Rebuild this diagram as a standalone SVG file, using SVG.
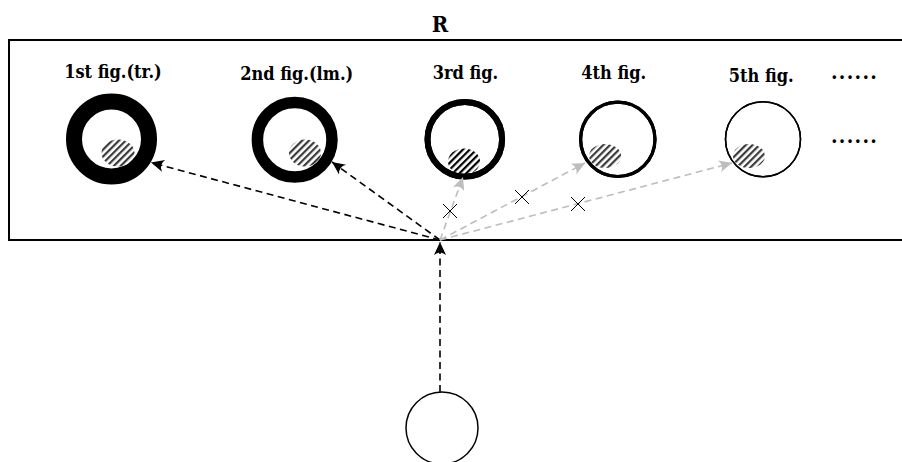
<svg xmlns="http://www.w3.org/2000/svg" width="902" height="462" viewBox="0 0 902 462">
<style>
.lbl{font-family:"DejaVu Serif Condensed","DejaVu Serif","Liberation Serif",serif;font-stretch:condensed;font-weight:bold;font-size:18px;fill:#000;text-anchor:middle}
.ring{fill:#fff;stroke:#000}
.blk{fill:none;stroke:#000;stroke-width:1.6;stroke-dasharray:7,4.5}
.gry{fill:none;stroke:#bdbdbd;stroke-width:1.6;stroke-dasharray:7,4.5}
.x{stroke:#000;stroke-width:1;fill:none}
.dots{font-family:"DejaVu Serif Condensed","DejaVu Serif",serif;font-stretch:condensed;font-weight:bold;font-size:21px;letter-spacing:1.3px;fill:#000}
</style>
<defs>
<marker id="ab" markerWidth="16" markerHeight="14" viewBox="-14 -7 16 14" refX="0" refY="0" orient="auto" markerUnits="userSpaceOnUse">
<path d="M0,0 L-13,-6 Q-8,0 -13,6 Z" fill="#000"/>
</marker>
<marker id="ag" markerWidth="16" markerHeight="14" viewBox="-14 -7 16 14" refX="0" refY="0" orient="auto" markerUnits="userSpaceOnUse">
<path d="M0,0 L-13,-6 Q-8,0 -13,6 Z" fill="#bdbdbd"/>
</marker>
<pattern id="hatch" width="4.8" height="4.8" patternUnits="userSpaceOnUse" patternTransform="rotate(45)">
<rect width="4.8" height="4.8" fill="#fff"/>
<rect width="2.2" height="4.8" fill="#3a3a3a"/>
</pattern>
<pattern id="hatchb" width="4.8" height="4.8" patternUnits="userSpaceOnUse" patternTransform="rotate(45)">
<rect width="4.8" height="4.8" fill="#fff"/>
<rect width="2.2" height="4.8" fill="#000"/>
</pattern>
</defs>
<rect width="902" height="462" fill="#fff"/>
<text x="440" y="32" class="lbl" style="font-size:22px">R</text>
<rect id="R" x="9" y="40" width="900" height="200" fill="none" stroke="#000" stroke-width="2"/>
<g id="fig1">
<text x="113" y="77.5" class="lbl">1st fig.(tr.)</text>
<circle cx="111.5" cy="139" r="37.5" class="ring" stroke-width="16"/>
<ellipse cx="118" cy="153" rx="16.5" ry="13.5" fill="url(#hatch)"/>
</g>
<g id="fig2">
<text x="296.7" y="79.5" class="lbl">2nd fig.(lm.)</text>
<circle cx="294.7" cy="139.7" r="37.3" class="ring" stroke-width="11.5"/>
<ellipse cx="305" cy="153" rx="16" ry="13.5" fill="url(#hatch)"/>
</g>
<g id="fig3">
<text x="465.5" y="79.3" class="lbl">3rd fig.</text>
<circle cx="464.8" cy="139.3" r="37.3" class="ring" stroke-width="6"/>
<ellipse cx="464" cy="161.5" rx="16" ry="13" fill="url(#hatchb)"/>
<circle cx="464.8" cy="139.3" r="37.3" fill="none" stroke="#000" stroke-width="6"/>
</g>
<g id="fig4">
<text x="613.7" y="79.3" class="lbl">4th fig.</text>
<circle cx="617.8" cy="139.3" r="37.2" class="ring" stroke-width="3.2"/>
<ellipse cx="605" cy="156" rx="16" ry="12" fill="url(#hatch)"/>
<circle cx="617.8" cy="139.3" r="37.2" fill="none" stroke="#000" stroke-width="3.2"/>
</g>
<g id="fig5">
<text x="761.3" y="81.7" class="lbl">5th fig.</text>
<circle cx="763" cy="139.3" r="37.5" class="ring" stroke-width="1.5"/>
<ellipse cx="749" cy="156" rx="16" ry="12" fill="url(#hatch)"/>
<circle cx="763" cy="139.3" r="37.5" fill="none" stroke="#000" stroke-width="1.5"/>
</g>
<g id="more">
<text x="831" y="79" class="dots">......</text>
<text x="831" y="143" class="dots">......</text>
</g>
<g id="source">
<circle cx="442" cy="428" r="36" fill="#fff" stroke="#000" stroke-width="1.5"/>
</g>
<g id="connectors">
<line x1="440" y1="392" x2="440" y2="242" class="blk" marker-end="url(#ab)"/>
<line x1="440" y1="240" x2="151" y2="162.5" class="blk" marker-end="url(#ab)"/>
<line x1="440" y1="240" x2="332" y2="162" class="blk" marker-end="url(#ab)"/>
<line x1="440" y1="240" x2="463" y2="177" class="gry" marker-end="url(#ag)"/>
<line x1="440" y1="240" x2="585" y2="163" class="gry" marker-end="url(#ag)"/>
<line x1="440" y1="240" x2="732" y2="163" class="gry" marker-end="url(#ag)"/>
<path class="x" d="M443,204 l14,14 M457,204 l-14,14"/>
<path class="x" d="M515,190 l14,14 M529,190 l-14,14"/>
<path class="x" d="M571,197 l14,14 M585,197 l-14,14"/>
</g>
</svg>
